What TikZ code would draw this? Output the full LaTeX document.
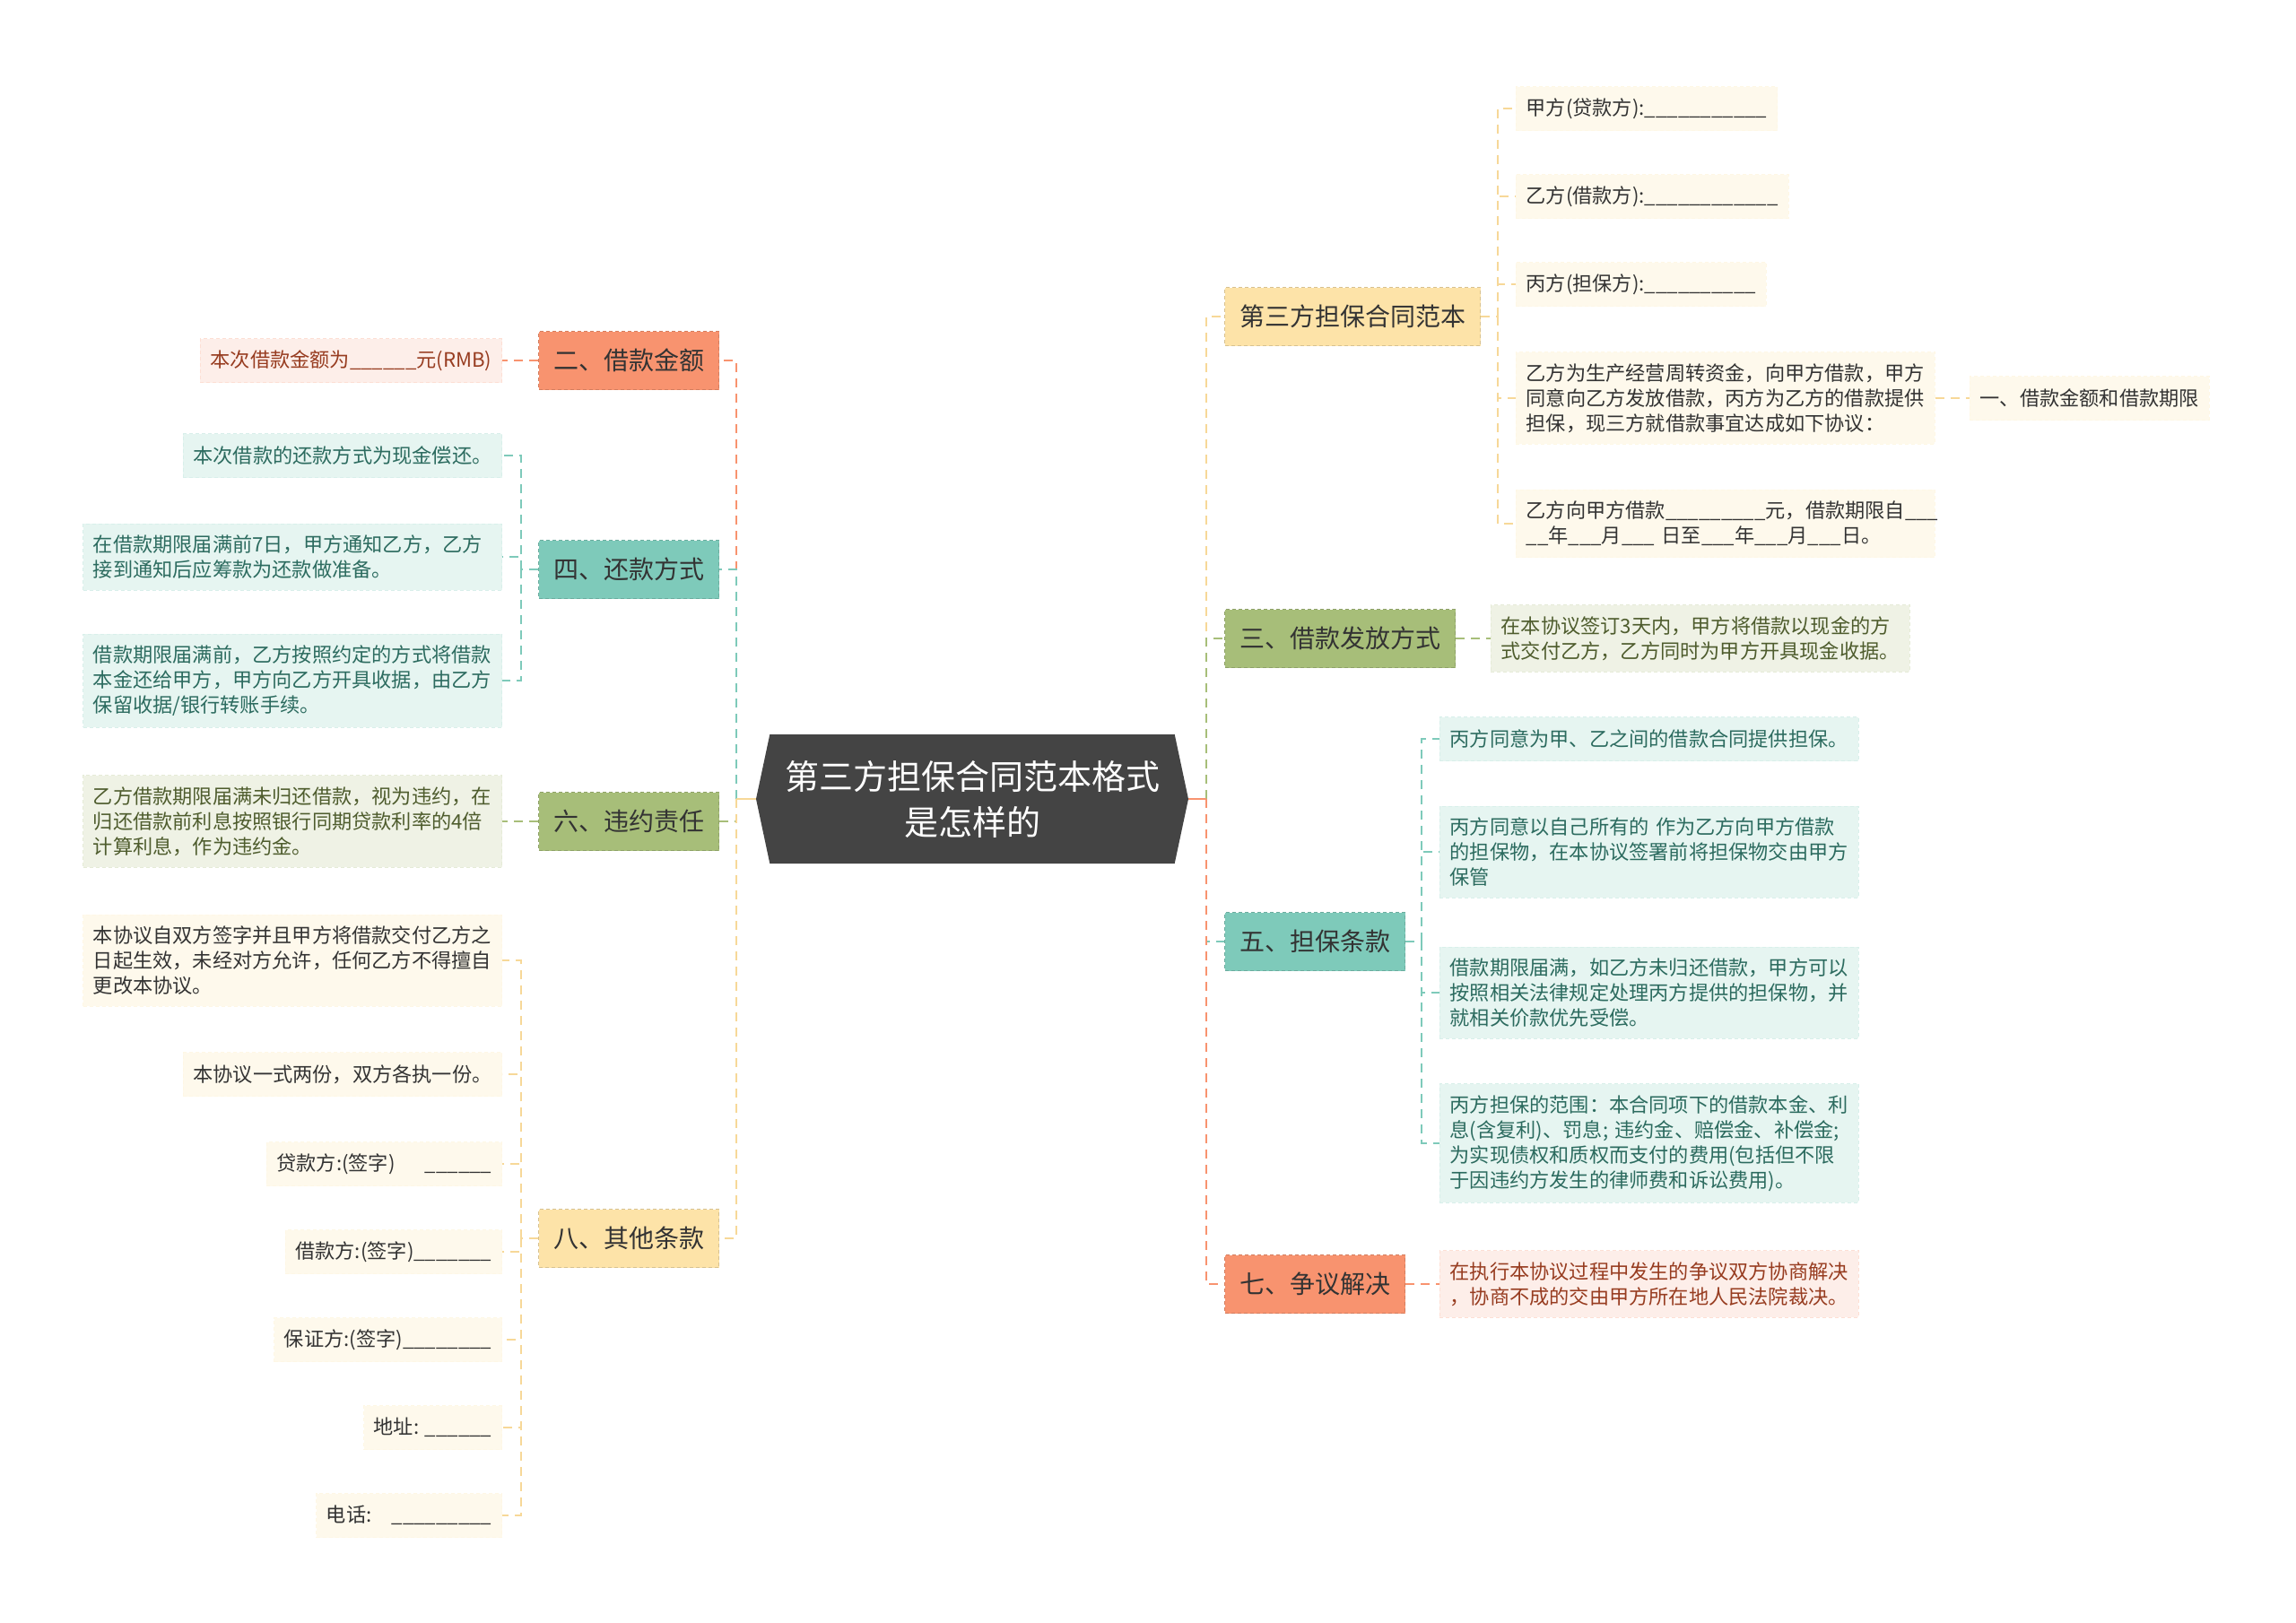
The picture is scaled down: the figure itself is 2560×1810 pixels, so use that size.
\documentclass[tikz,border=0pt]{standalone}
\usepackage{fontspec}
\setmainfont{Noto Sans CJK SC}
\usetikzlibrary{shapes.symbols}

\definecolor{rootgray}{HTML}{444444}
\definecolor{redmain}{HTML}{F8936F}
\definecolor{redleaf}{HTML}{FDEEE9}
\definecolor{redtext}{HTML}{973C20}
\definecolor{greenmain}{HTML}{7ECABA}
\definecolor{greenleaf}{HTML}{E6F5F1}
\definecolor{greentext}{HTML}{2C6B5F}
\definecolor{olivemain}{HTML}{A7BE79}
\definecolor{oliveleaf}{HTML}{EFF2E5}
\definecolor{olivetext}{HTML}{4E5C2D}
\definecolor{yellowmain}{HTML}{FDE3A8}
\definecolor{yellowleaf}{HTML}{FEF9EC}
\definecolor{yellowline}{HTML}{F7D898}
\definecolor{darktext}{HTML}{333333}

\newcommand{\blanks}[1]{\foreach \k in {1,...,#1}{\_}}

\tikzstyle{rootNode}=[signal, signal to=west and east, signal pointer angle=156, fill=rootgray, text=white, minimum width=241pt, minimum height=72pt, align=center, font=\fontsize{19}{25.5}\selectfont]
\tikzstyle{branchNode}=[rectangle, minimum height=32.5pt, inner xsep=8.25pt, text=darktext, line width=0.5pt, dash pattern=on 2pt off 1.5pt, font=\fontsize{14}{17}\selectfont]
\tikzstyle{leafNode}=[rectangle, minimum height=24.5pt, inner xsep=5.6pt, inner ysep=6.3pt, align=left, line width=0.4pt, dash pattern=on 2pt off 1.5pt, font=\fontsize{11.1}{14}\selectfont]
\tikzstyle{wideLeaf}=[leafNode, text width=222.3pt]
\tikzstyle{link}=[line width=1.2pt, dash pattern=on 5pt off 3.5pt]
\tikzstyle{stem}=[line width=1.2pt]

\begin{document}
\begin{tikzpicture}[x=0.5pt, y=-0.5pt]

    \fill[white] (0,0) rectangle (2560,1810);
    \useasboundingbox (0,0) rectangle (2560,1810);

    \node[rootNode] (root) at (1084,891) {第三方担保合同范本格式\\是怎样的};

    % right branches
    \node[branchNode, fill=yellowmain, draw=yellowmain!85!black, anchor=west] (b0) at (1365,353) {第三方担保合同范本};
    \node[branchNode, fill=olivemain, draw=olivemain!85!black, anchor=west] (b3) at (1365,712) {三、借款发放方式};
    \node[branchNode, fill=greenmain, draw=greenmain!85!black, anchor=west] (b5) at (1365,1050) {五、担保条款};
    \node[branchNode, fill=redmain, draw=redmain!85!black, anchor=west] (b7) at (1365,1432) {七、争议解决};

    % left branches
    \node[branchNode, fill=redmain, draw=redmain!85!black, anchor=east] (b2) at (802,402) {二、借款金额};
    \node[branchNode, fill=greenmain, draw=greenmain!85!black, anchor=east] (b4) at (802,635) {四、还款方式};
    \node[branchNode, fill=olivemain, draw=olivemain!85!black, anchor=east] (b6) at (802,916) {六、违约责任};
    \node[branchNode, fill=yellowmain, draw=yellowmain!85!black, anchor=east] (b8) at (802,1381) {八、其他条款};

    % leaves of b0
    \node[leafNode, fill=yellowleaf, draw=yellowmain!30, text=darktext, anchor=west] (l0a) at (1690,121) {甲方(贷款方):\blanks{11}};
    \node[leafNode, fill=yellowleaf, draw=yellowmain!30, text=darktext, anchor=west] (l0b) at (1690,219) {乙方(借款方):\blanks{12}};
    \node[leafNode, fill=yellowleaf, draw=yellowmain!30, text=darktext, anchor=west] (l0c) at (1690,317) {丙方(担保方):\blanks{10}};
    \node[wideLeaf, fill=yellowleaf, draw=yellowmain!30, text=darktext, anchor=west] (l0d) at (1690,444) {乙方为生产经营周转资金，向甲方借款，甲方\\同意向乙方发放借款，丙方为乙方的借款提供\\担保，现三方就借款事宜达成如下协议：};
    \node[wideLeaf, fill=yellowleaf, draw=yellowmain!30, text=darktext, anchor=west] (l0e) at (1690,584) {乙方向甲方借款\blanks{9}元，借款期限自\blanks{3}\\\blanks{2}年\blanks{3}月\blanks{3} 日至\blanks{3}年\blanks{3}月\blanks{3}日。};
    \node[leafNode, fill=yellowleaf, draw=yellowmain!30, text=darktext, anchor=west] (l0f) at (2196,444) {一、借款金额和借款期限};

    % leaf of b3
    \node[wideLeaf, fill=oliveleaf, draw=olivemain!30, text=olivetext, anchor=west] (l3) at (1662,712) {在本协议签订3天内，甲方将借款以现金的方\\式交付乙方，乙方同时为甲方开具现金收据。};

    % leaves of b5
    \node[wideLeaf, fill=greenleaf, draw=greenmain!30, text=greentext, anchor=west] (l5a) at (1605,824) {丙方同意为甲、乙之间的借款合同提供担保。};
    \node[wideLeaf, fill=greenleaf, draw=greenmain!30, text=greentext, anchor=west] (l5b) at (1605,950) {丙方同意以自己所有的 作为乙方向甲方借款\\的担保物，在本协议签署前将担保物交由甲方\\保管};
    \node[wideLeaf, fill=greenleaf, draw=greenmain!30, text=greentext, anchor=west] (l5c) at (1605,1107) {借款期限届满，如乙方未归还借款，甲方可以\\按照相关法律规定处理丙方提供的担保物，并\\就相关价款优先受偿。};
    \node[wideLeaf, fill=greenleaf, draw=greenmain!30, text=greentext, anchor=west] (l5d) at (1605,1275) {丙方担保的范围：本合同项下的借款本金、利\\息(含复利)、罚息; 违约金、赔偿金、补偿金;\\为实现债权和质权而支付的费用(包括但不限\\于因违约方发生的律师费和诉讼费用)。};

    % leaf of b7
    \node[wideLeaf, fill=redleaf, draw=redmain!30, text=redtext, anchor=west] (l7) at (1605,1432) {在执行本协议过程中发生的争议双方协商解决\\，协商不成的交由甲方所在地人民法院裁决。};

    % leaf of b2
    \node[leafNode, fill=redleaf, draw=redmain!30, text=redtext, anchor=east] (l2) at (560,402) {本次借款金额为\blanks{6}元(RMB)};

    % leaves of b4
    \node[leafNode, fill=greenleaf, draw=greenmain!30, text=greentext, anchor=east] (l4a) at (560,508) {本次借款的还款方式为现金偿还。};
    \node[wideLeaf, fill=greenleaf, draw=greenmain!30, text=greentext, anchor=east] (l4b) at (560,621) {在借款期限届满前7日，甲方通知乙方，乙方\\接到通知后应筹款为还款做准备。};
    \node[wideLeaf, fill=greenleaf, draw=greenmain!30, text=greentext, anchor=east] (l4c) at (560,759) {借款期限届满前，乙方按照约定的方式将借款\\本金还给甲方，甲方向乙方开具收据，由乙方\\保留收据/银行转账手续。};

    % leaf of b6
    \node[wideLeaf, fill=oliveleaf, draw=olivemain!30, text=olivetext, anchor=east] (l6) at (560,916) {乙方借款期限届满未归还借款，视为违约，在\\归还借款前利息按照银行同期贷款利率的4倍\\计算利息，作为违约金。};

    % leaves of b8
    \node[wideLeaf, fill=yellowleaf, draw=yellowmain!30, text=darktext, anchor=east] (l8a) at (560,1071) {本协议自双方签字并且甲方将借款交付乙方之\\日起生效，未经对方允许，任何乙方不得擅自\\更改本协议。};
    \node[leafNode, fill=yellowleaf, draw=yellowmain!30, text=darktext, anchor=east] (l8b) at (560,1198) {本协议一式两份，双方各执一份。};
    \node[leafNode, fill=yellowleaf, draw=yellowmain!30, text=darktext, anchor=east] (l8c) at (560,1298) {贷款方:(签字)\hspace{1.5em}\blanks{6}};
    \node[leafNode, fill=yellowleaf, draw=yellowmain!30, text=darktext, anchor=east] (l8d) at (560,1396) {借款方:(签字)\blanks{7}};
    \node[leafNode, fill=yellowleaf, draw=yellowmain!30, text=darktext, anchor=east] (l8e) at (560,1494) {保证方:(签字)\blanks{8}};
    \node[leafNode, fill=yellowleaf, draw=yellowmain!30, text=darktext, anchor=east] (l8f) at (560,1592) {地址: \blanks{6}};
    \node[leafNode, fill=yellowleaf, draw=yellowmain!30, text=darktext, anchor=east] (l8g) at (560,1690) {电话:\hspace{1em}\blanks{9}};

    % trunk points
    \coordinate (tl) at (821,891);
    \coordinate (tr) at (1345,891);
    \coordinate (j0) at (1670,353);
    \coordinate (j4) at (581,635);
    \coordinate (j5) at (1585,1050);
    \coordinate (j8) at (581,1381);

    % left side
    \draw[link, redmain] (tl) |- (b2.east);
    \draw[link, greenmain] (tl) |- (b4.east);
    \draw[link, olivemain] (tl) |- (b6.east);
    \draw[link, yellowline] (tl) |- (b8.east);
    \draw[stem, yellowline] (root.west) -- (tl);

    % right side
    \draw[link, yellowline] (tr) |- (b0.west);
    \draw[link, olivemain] (tr) |- (b3.west);
    \draw[link, greenmain] (tr) |- (b5.west);
    \draw[link, redmain] (tr) |- (b7.west);
    \draw[stem, redmain] (root.east) -- (tr);

    % leaf links
    \draw[link, yellowline] (b0.east) -- (j0);
    \foreach \n in {l0a,l0b,l0c,l0d,l0e}
        \draw[link, yellowline] (j0) |- (\n.west);
    \draw[link, yellowline] (l0d.east) -- (l0f.west);
    \draw[link, olivemain] (b3.east) -- (l3.west);
    \draw[link, greenmain] (b5.east) -- (j5);
    \foreach \n in {l5a,l5b,l5c,l5d}
        \draw[link, greenmain] (j5) |- (\n.west);
    \draw[link, redmain] (b7.east) -- (l7.west);

    \draw[link, redmain] (b2.west) -- (l2.east);
    \draw[link, greenmain] (b4.west) -- (j4);
    \foreach \n in {l4a,l4b,l4c}
        \draw[link, greenmain] (j4) |- (\n.east);
    \draw[link, olivemain] (b6.west) -- (l6.east);
    \draw[link, yellowline] (b8.west) -- (j8);
    \foreach \n in {l8a,l8b,l8c,l8d,l8e,l8f,l8g}
        \draw[link, yellowline] (j8) |- (\n.east);

\end{tikzpicture}
\end{document}
